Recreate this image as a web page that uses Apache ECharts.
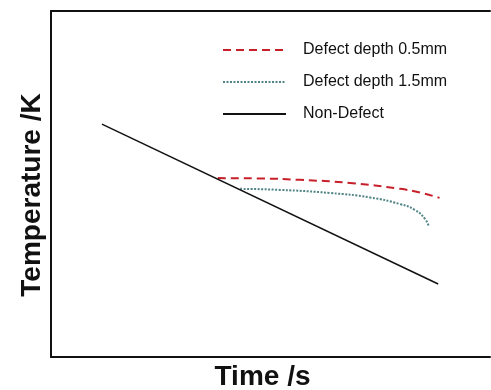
<!DOCTYPE html>
<html>
<head>
<meta charset="utf-8">
<script src="https://cdn.jsdelivr.net/npm/echarts@6/dist/echarts.min.js"></script>
<style>
html,body{margin:0;padding:0;background:#fff;}
#main{width:491px;height:390px;}
</style>
</head>
<body>
<div id="main"></div>
<script>
// 曲线数据 (time, temperature) 任意单位
var names = ['Defect depth 0.5mm', 'Defect depth 1.5mm', 'Non-Defect'];
var depth05 = [[38.0,51.7],[47.6,51.6],[56.7,51.2],[68.1,50.3],[79.5,48.6],[84.1,47.5],[88.5,46.0]];
var depth15 = [[43.1,48.6],[52.2,48.3],[63.6,47.4],[72.7,46.1],[79.5,44.2],[82.9,42.5],[85.2,39.9],[86.1,37.6]];
var nonDefect = [[11.6,67.3],[88.2,21.1]];

var myChart = echarts.init(document.getElementById('main'));
var font = 'Liberation Sans, Arial, sans-serif';
option = {
    animation: false,
    grid: {left: 51, top: 11, width: 439, height: 346, containLabel: false, outerBoundsMode: 'none'},
    legend: {
        orient: 'vertical',
        left: 217,
        top: 37,
        itemWidth: 63,
        itemHeight: 14,
        itemGap: 16,
        itemStyle: {opacity: 0},
        textStyle: {fontSize: 16, color: '#111', fontFamily: font, padding: [0,0,0,12]},
        data: names
    },
    xAxis: [{
        type: 'value', min: 0, max: 100,
        name: 'Time /s',
        nameLocation: 'middle',
        nameGap: 6,
        nameTextStyle: {fontSize: 28, fontWeight: 'bold', color: '#111', fontFamily: font, verticalAlign: 'top', padding: [0,16,0,0]},
        axisLine: {show: true, onZero: false, lineStyle: {color: '#111', width: 2}},
        axisTick: {show: false}, axisLabel: {show: false}, splitLine: {show: false}
    },{
        type: 'value', min: 0, max: 100, position: 'top',
        axisLine: {show: true, onZero: false, lineStyle: {color: '#111', width: 2}},
        axisTick: {show: false}, axisLabel: {show: false}, splitLine: {show: false}
    }],
    yAxis: {
        type: 'value', min: 0, max: 100,
        name: 'Temperature /K',
        nameLocation: 'middle',
        nameGap: 5,
        nameTextStyle: {fontSize: 28, fontWeight: 'bold', color: '#111', fontFamily: font, padding: [0,22,0,0]},
        axisLine: {show: true, onZero: false, lineStyle: {color: '#111', width: 2}},
        axisTick: {show: false}, axisLabel: {show: false}, splitLine: {show: false}
    },
    series: [
        {
            name: names[0], type: 'line', smooth: true, symbol: 'none',
            lineStyle: {color: '#c8202a', width: 2, type: [8,5]},
            itemStyle: {color: '#c8202a'},
            data: depth05
        },
        {
            name: names[1], type: 'line', smooth: true, symbol: 'none',
            lineStyle: {color: '#4f8384', width: 2, type: [2,1.5]},
            itemStyle: {color: '#4f8384'},
            data: depth15
        },
        {
            name: names[2], type: 'line', symbol: 'none',
            lineStyle: {color: '#111', width: 1.5},
            itemStyle: {color: '#111'},
            data: nonDefect
        }
    ]
};
myChart.setOption(option);
</script>
</body>
</html>
